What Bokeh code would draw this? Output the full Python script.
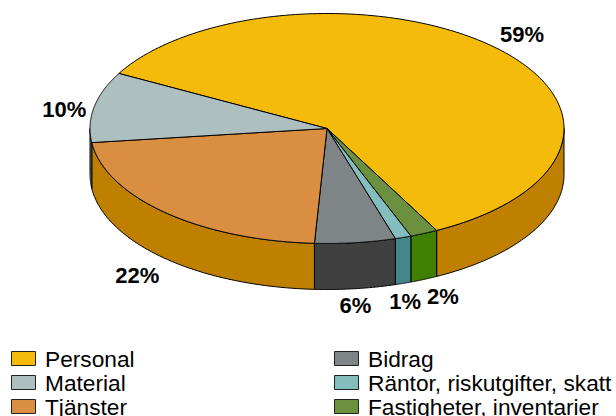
import numpy as np
from bokeh.plotting import figure
from bokeh.embed import file_html
from bokeh.resources import INLINE
from bokeh.core.properties import value

# data
categories = ["Personal", "Material", "Tjänster", "Bidrag", "Räntor, riskutgifter, skatt", "Fastigheter, inventarier"]
shares = [59.4, 9.9, 22.2, 5.5, 1.1, 1.9]
labels = ["59%", "10%", "22%", "6%", "1%", "2%"]
top_colors = ["#F4BB0B", "#AEBFBF", "#D98E41", "#7F8487", "#84BDBD", "#6B9040"]
side_colors = ["#BF8000", "#6F7F7F", "#BF8000", "#404040", "#46868A", "#408000"]
clockwise_order = [0, 5, 4, 3, 2, 1]

# layout
CX, CY, RX, RY, DEPTH = 326.5, 128, 237, 115, 46
START = 151.4
label_offsets = [(26, -13), (-30, 3), (-28, 63), (0, 63), (2, 64), (19, 63)]

p = figure(width=616, height=416, x_range=(0, 616), y_range=(416, 0),
           output_backend="svg", toolbar_location=None, min_border=0,
           outline_line_color=None, background_fill_color="white", border_fill_color="white")
p.axis.visible = False
p.grid.visible = False


def ex(t):
    return CX + RX * np.cos(np.radians(t))


def ey(t):
    return CY - RY * np.sin(np.radians(t))


t0 = START
spans = {}
for i in clockwise_order:
    t1 = t0 - shares[i] / sum(shares) * 360
    spans[i] = (t0, t1)
    t0 = t1

# side walls: only the front half of the rim is visible
for i in clockwise_order:
    a, b = spans[i]
    for shift in (0, 360):
        hi, lo = a + shift, b + shift
        lo2, hi2 = max(lo, 180), min(hi, 360)
        if hi2 <= lo2:
            continue
        ts = np.linspace(hi2, lo2, 60)
        xs = np.concatenate([ex(ts), ex(ts[::-1])])
        ys = np.concatenate([ey(ts), ey(ts[::-1]) + DEPTH])
        p.patch(xs, ys, fill_color=side_colors[i], line_color="#000000", line_width=1)

# top faces
for i in clockwise_order:
    a, b = spans[i]
    ts = np.linspace(a, b, 160)
    xs = np.concatenate([[CX], ex(ts)])
    ys = np.concatenate([[CY], ey(ts)])
    p.patch(xs, ys, fill_color=top_colors[i], line_color="#000000", line_width=1)

# percentage labels
for i in range(len(labels)):
    a, b = spans[i]
    m = (a + b) / 2
    off = label_offsets[i]
    p.text([ex(m) + off[0]], [ey(m) + off[1]], text=[labels[i]], text_align="center", text_baseline="middle",
           text_font=value("Liberation Sans"), text_font_style="bold", text_font_size="22px", text_color="#000000")

# legend
col_x = [11, 334]
row_y = [358, 382, 406]
for i, (name, col) in enumerate(zip(categories, top_colors)):
    x = col_x[i // 3]
    y = row_y[i % 3]
    p.quad(left=[x], right=[x + 24], top=[y - 7], bottom=[y + 7], fill_color=col, line_color="#222222", line_width=1)
    p.text([x + 33.5], [y], text=[name], text_align="left", text_baseline="middle",
           text_font=value("Liberation Sans"), text_font_size="22.7px", text_color="#000000")

open("out.html", "w").write(file_html(p, INLINE))
